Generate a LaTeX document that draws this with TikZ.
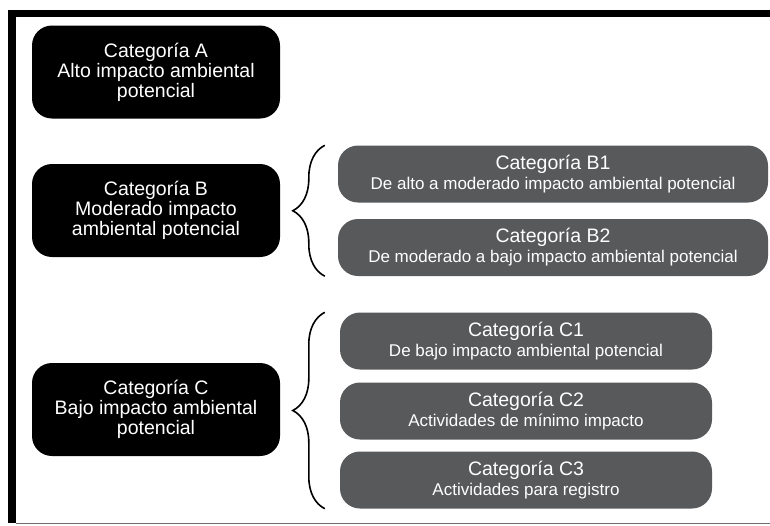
\documentclass[tikz,border=0pt]{standalone}
\usepackage{fontspec}
\setmainfont{Liberation Sans}
\usepackage{tikz}
\usetikzlibrary{positioning,decorations.pathreplacing}
\usepackage{xcolor}
\definecolor{catgrey}{RGB}{88,89,91}
\definecolor{rulegrey}{RGB}{110,110,110}
\tikzstyle{mainbox} = [fill=black, text=white, rounded corners=20pt, minimum width=248pt, minimum height=93pt, align=center, font=\fontsize{19.5}{20}\selectfont]
\tikzstyle{subbox} = [fill=catgrey, text=white, rounded corners=20pt, minimum height=57pt, align=center, font=\fontsize{19.5}{20}\selectfont]
\tikzstyle{catbrace} = [line width=1.6pt, decorate, decoration={brace, amplitude=32pt}]
\newcommand{\subtxt}[1]{{\fontsize{17}{20}\selectfont #1}}

\begin{document}
\begin{tikzpicture}[x=1pt, y=-1pt]
\useasboundingbox (0,0) rectangle (770,525);

% Frame
\fill (8,10) rectangle (770,17);
\fill (8,10) rectangle (16,523);
\draw[rulegrey, line width=1pt] (16,523) -- (770,523);

% Main categories
\node[mainbox] (catA) at (156,72) {Categoría A\\Alto impacto ambiental\\potencial};
\node[mainbox] (catB) at (156,210.5) {Categoría B\\Moderado impacto\\ambiental potencial};
\node[mainbox] (catC) at (156,409.5) {Categoría C\\Bajo impacto ambiental\\potencial};

% Subcategories B
\node[subbox, minimum width=430pt] (catB1) at (553,174) {Categoría B1\\\subtxt{De alto a moderado impacto ambiental potencial}};
\node[subbox, minimum width=430pt] (catB2) at (553,247.5) {Categoría B2\\\subtxt{De moderado a bajo impacto ambiental potencial}};

% Subcategories C
\node[subbox, minimum width=372pt] (catC1) at (526,341) {Categoría C1\\\subtxt{De bajo impacto ambiental potencial}};
\node[subbox, minimum width=372pt] (catC2) at (526,411) {Categoría C2\\\subtxt{Actividades de mínimo impacto}};
\node[subbox, minimum width=372pt] (catC3) at (526,480) {Categoría C3\\\subtxt{Actividades para registro}};

% Braces
\draw[catbrace] ([xshift=-13pt]catB2.south west) -- ([xshift=-13pt]catB1.north west);
\draw[catbrace] ([xshift=-15pt]catC3.south west) -- ([xshift=-15pt]catC1.north west);
\end{tikzpicture}
\end{document}
